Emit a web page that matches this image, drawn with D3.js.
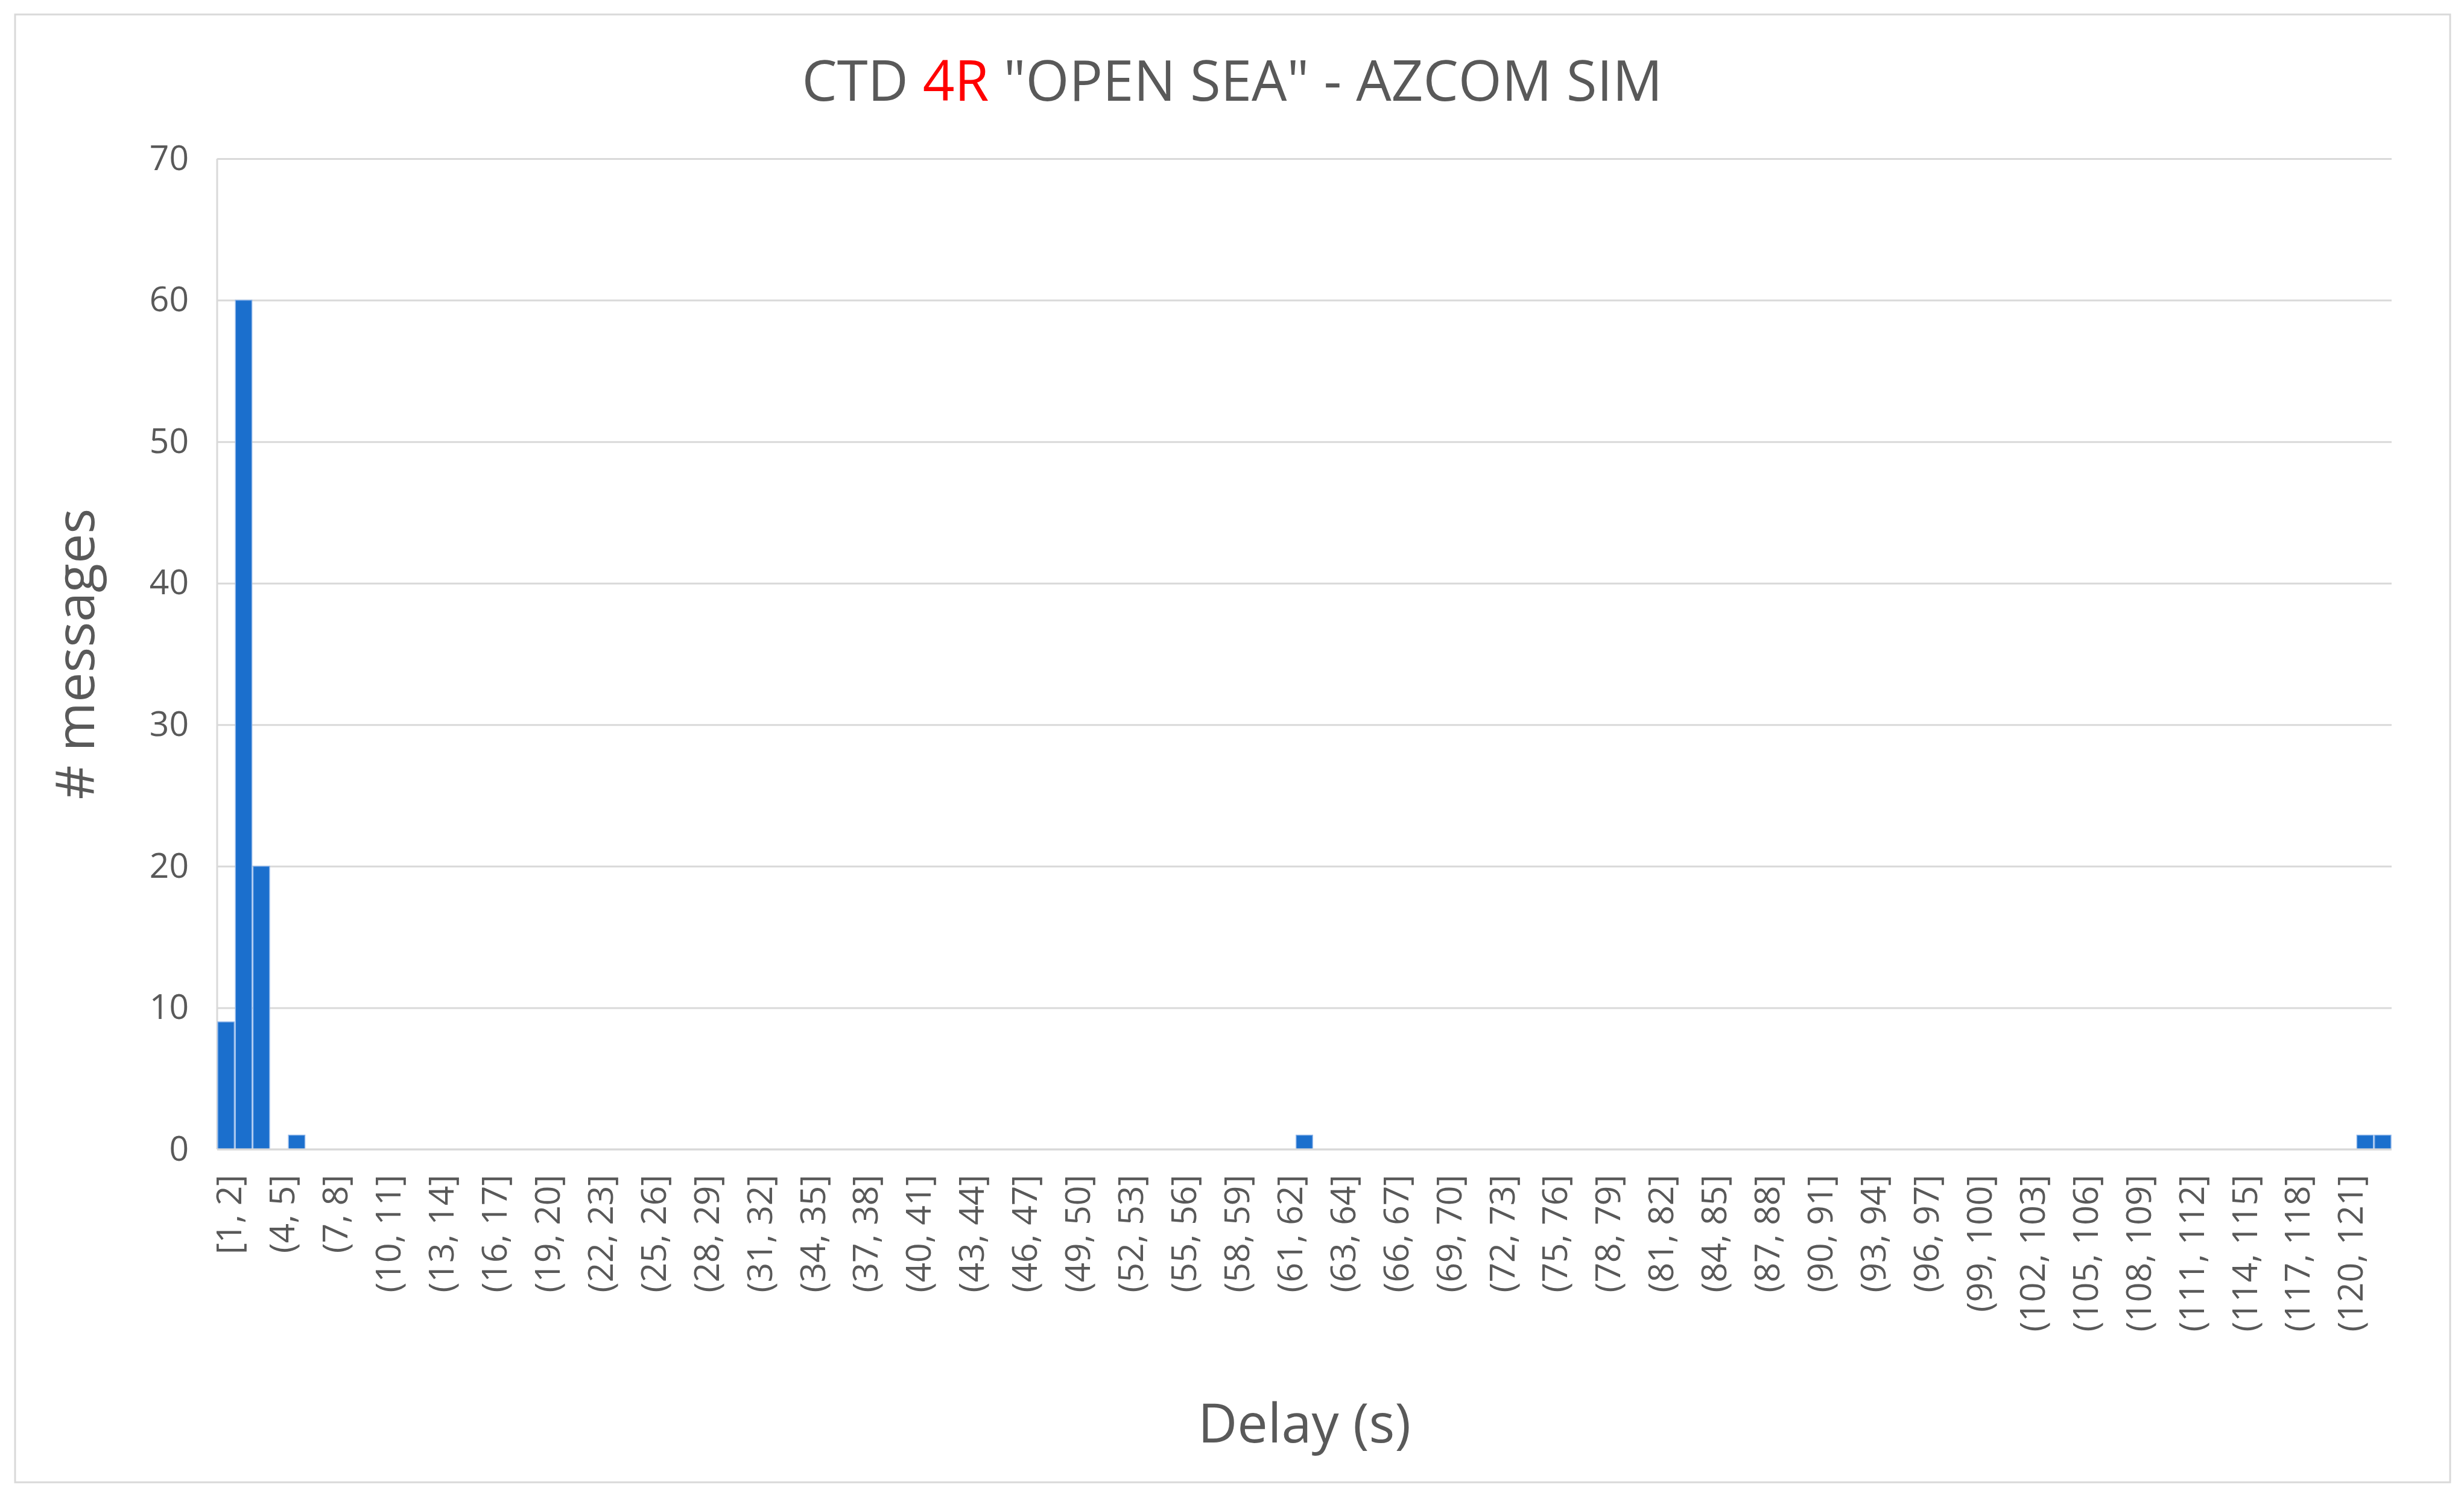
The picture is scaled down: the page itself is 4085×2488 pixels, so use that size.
<!DOCTYPE html>
<html>
<head>
<meta charset="utf-8">
<script src="https://cdn.jsdelivr.net/npm/d3@7"></script>
<style>
  html, body { margin: 0; padding: 0; background: #ffffff; }
  svg { display: block; }
</style>
</head>
<body>
<script>
// ---------------- DATA ----------------
const titleParts = [
  { text: "CTD ", color: "#595959" },
  { text: "4R", color: "#ff0000" },
  { text: " \"OPEN SEA\" - AZCOM SIM", color: "#595959" }
];
const xTitle = "Delay (s)";
const yTitle = "# messages";

const categories = [
  "[1, 2]","(2, 3]","(3, 4]","(4, 5]","(5, 6]","(6, 7]","(7, 8]","(8, 9]","(9, 10]","(10, 11]",
  "(11, 12]","(12, 13]","(13, 14]","(14, 15]","(15, 16]","(16, 17]","(17, 18]","(18, 19]","(19, 20]","(20, 21]",
  "(21, 22]","(22, 23]","(23, 24]","(24, 25]","(25, 26]","(26, 27]","(27, 28]","(28, 29]","(29, 30]","(30, 31]",
  "(31, 32]","(32, 33]","(33, 34]","(34, 35]","(35, 36]","(36, 37]","(37, 38]","(38, 39]","(39, 40]","(40, 41]",
  "(41, 42]","(42, 43]","(43, 44]","(44, 45]","(45, 46]","(46, 47]","(47, 48]","(48, 49]","(49, 50]","(50, 51]",
  "(51, 52]","(52, 53]","(53, 54]","(54, 55]","(55, 56]","(56, 57]","(57, 58]","(58, 59]","(59, 60]","(60, 61]",
  "(61, 62]","(62, 62]","(62, 63]","(63, 64]","(64, 65]","(65, 66]","(66, 67]","(67, 68]","(68, 69]","(69, 70]",
  "(70, 71]","(71, 72]","(72, 73]","(73, 74]","(74, 75]","(75, 76]","(76, 77]","(77, 78]","(78, 79]","(79, 80]",
  "(80, 81]","(81, 82]","(82, 83]","(83, 84]","(84, 85]","(85, 86]","(86, 87]","(87, 88]","(88, 89]","(89, 90]",
  "(90, 91]","(91, 92]","(92, 93]","(93, 94]","(94, 95]","(95, 96]","(96, 97]","(97, 98]","(98, 99]","(99, 100]",
  "(100, 101]","(101, 102]","(102, 103]","(103, 104]","(104, 105]","(105, 106]","(106, 107]","(107, 108]","(108, 109]","(109, 110]",
  "(110, 111]","(111, 112]","(112, 113]","(113, 114]","(114, 115]","(115, 116]","(116, 117]","(117, 118]","(118, 119]","(119, 120]",
  "(120, 121]","(121, 122]","(122, 123]"
];

const values = [
  9, 60, 20, 0, 1, 0, 0, 0, 0, 0,
  0, 0, 0, 0, 0, 0, 0, 0, 0, 0,
  0, 0, 0, 0, 0, 0, 0, 0, 0, 0,
  0, 0, 0, 0, 0, 0, 0, 0, 0, 0,
  0, 0, 0, 0, 0, 0, 0, 0, 0, 0,
  0, 0, 0, 0, 0, 0, 0, 0, 0, 0,
  0, 1, 0, 0, 0, 0, 0, 0, 0, 0,
  0, 0, 0, 0, 0, 0, 0, 0, 0, 0,
  0, 0, 0, 0, 0, 0, 0, 0, 0, 0,
  0, 0, 0, 0, 0, 0, 0, 0, 0, 0,
  0, 0, 0, 0, 0, 0, 0, 0, 0, 0,
  0, 0, 0, 0, 0, 0, 0, 0, 0, 0,
  0, 1, 1
];

const xTickLabels = [
  "[1, 2]","(4, 5]","(7, 8]","(10, 11]","(13, 14]","(16, 17]","(19, 20]","(22, 23]","(25, 26]","(28, 29]",
  "(31, 32]","(34, 35]","(37, 38]","(40, 41]","(43, 44]","(46, 47]","(49, 50]","(52, 53]","(55, 56]","(58, 59]",
  "(61, 62]","(63, 64]","(66, 67]","(69, 70]","(72, 73]","(75, 76]","(78, 79]","(81, 82]","(84, 85]","(87, 88]",
  "(90, 91]","(93, 94]","(96, 97]","(99, 100]","(102, 103]","(105, 106]","(108, 109]","(111, 112]","(114, 115]","(117, 118]",
  "(120, 121]"
];
const yTicks = [0, 10, 20, 30, 40, 50, 60, 70];
const yDomain = [0, 70];

// ---------------- LAYOUT ----------------
const W = 4085, H = 2488;
const plot = { left: 360, right: 3965, top: 263, bottom: 1905 };
const FONT = "'Open Sans', 'Noto Sans', sans-serif";
const TXT = "#595959";
const GRID = "#d9d9d9";
const BAR = "#1b6fcd";

const svg = d3.select("body").append("svg")
  .attr("width", W).attr("height", H)
  .attr("viewBox", `0 0 ${W} ${H}`);

svg.append("rect").attr("x", 0).attr("y", 0).attr("width", W).attr("height", H).attr("fill", "#fff");
// chart frame
svg.append("rect")
  .attr("x", 25).attr("y", 24).attr("width", 4062 - 25).attr("height", 2457 - 24)
  .attr("fill", "#fff").attr("stroke", "#d9d9d9").attr("stroke-width", 3);

const x = d3.scaleBand().domain(categories).range([plot.left, plot.right]).padding(0);
const y = d3.scaleLinear().domain(yDomain).range([plot.bottom, plot.top]);

// gridlines
svg.append("g")
  .attr("transform", `translate(${plot.left},0)`)
  .call(d3.axisLeft(y).tickValues(yTicks).tickSize(-(plot.right - plot.left)).tickFormat(""))
  .call(g => g.select(".domain").remove())
  .call(g => g.selectAll(".tick line").attr("stroke", GRID).attr("stroke-width", 3));

// left vertical line
svg.append("line")
  .attr("x1", plot.left).attr("x2", plot.left)
  .attr("y1", y(yDomain[1])).attr("y2", y(0))
  .attr("stroke", GRID).attr("stroke-width", 3);

// bars
svg.append("g").selectAll("rect")
  .data(categories.map((c, i) => ({ c, v: values[i] })).filter(d => d.v > 0))
  .join("rect")
  .attr("x", d => x(d.c) + 1)
  .attr("width", x.bandwidth() - 2)
  .attr("y", d => y(d.v))
  .attr("height", d => y(0) - y(d.v))
  .attr("fill", BAR)
  .attr("stroke", "#8fb6ea")
  .attr("stroke-width", 1.5);

// bottom axis line
svg.append("line")
  .attr("x1", plot.left).attr("x2", plot.right)
  .attr("y1", y(0)).attr("y2", y(0))
  .attr("stroke", GRID).attr("stroke-width", 3);

// y axis labels
svg.append("g")
  .attr("transform", `translate(${plot.left},0)`)
  .call(d3.axisLeft(y).tickValues(yTicks).tickSize(0).tickPadding(47))
  .call(g => g.select(".domain").remove())
  .call(g => g.selectAll("text")
    .attr("font-family", FONT).attr("font-size", 57).attr("fill", TXT));

// x axis labels (every 3rd category, as in the reference)
const tickIdx = new Set(xTickLabels.map(l => categories.indexOf(l)));
svg.append("g")
  .attr("transform", `translate(0,${plot.bottom})`)
  .call(d3.axisBottom(x).tickValues(categories.filter((c, i) => tickIdx.has(i))).tickSize(0))
  .call(g => g.select(".domain").remove())
  .call(g => g.selectAll("text")
    .attr("font-family", FONT).attr("font-size", 57).attr("fill", TXT)
    .attr("transform", "rotate(-90)")
    .attr("x", -42).attr("y", 0).attr("dy", "0.45em")
    .style("text-anchor", "end"));

// title
const t = svg.append("text")
  .attr("x", 2043).attr("y", 167)
  .attr("text-anchor", "middle")
  .attr("font-family", FONT).attr("font-size", 94)
  .attr("textLength", 1427).attr("lengthAdjust", "spacingAndGlyphs");
t.selectAll("tspan").data(titleParts).join("tspan")
  .attr("fill", d => d.color).text(d => d.text);

// axis titles
svg.append("text")
  .attr("x", (plot.left + plot.right) / 2).attr("y", 2391)
  .attr("text-anchor", "middle")
  .attr("font-family", FONT).attr("font-size", 90).attr("fill", TXT)
  .text(xTitle);

svg.append("text")
  .attr("transform", `translate(156,1084) rotate(-90)`)
  .attr("text-anchor", "middle")
  .attr("font-family", FONT).attr("font-size", 88).attr("fill", TXT)
  .text(yTitle);
</script>
</body>
</html>
